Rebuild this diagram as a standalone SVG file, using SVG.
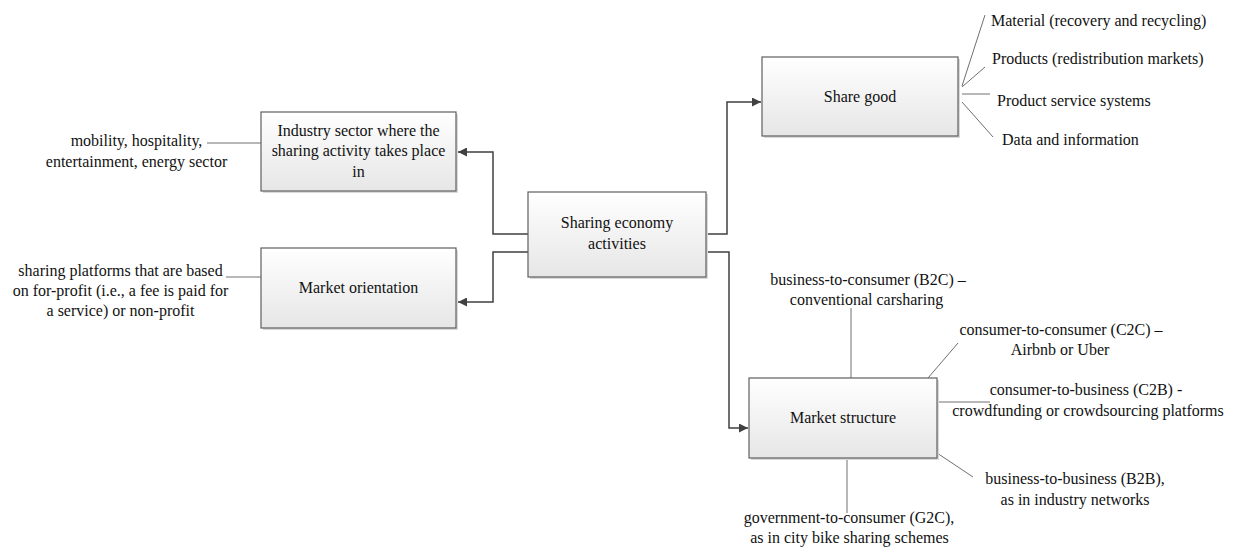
<svg xmlns="http://www.w3.org/2000/svg" width="1247" height="555" viewBox="0 0 1247 555">
<style>
.box{fill:url(#g);stroke:#5f5f5f;stroke-width:1.2}
.sh{fill:#d9d9d9}
.t{font-family:"Liberation Serif","Times New Roman",serif;font-size:16px;fill:#111}
.m{text-anchor:middle}
.c{fill:none;stroke:#404040;stroke-width:1.5}
.l{fill:none;stroke:#707070;stroke-width:1}
</style>
<defs>
<linearGradient id="g" x1="0" y1="0" x2="0" y2="1">
<stop offset="0" stop-color="#ffffff"/>
<stop offset="1" stop-color="#e6e6e6"/>
</linearGradient>
<marker id="a" viewBox="0 0 10 10" refX="10" refY="5" markerWidth="10" markerHeight="9" markerUnits="userSpaceOnUse" orient="auto">
<path d="M0,0 L10,5 L0,10 z" fill="#404040"/>
</marker>
</defs>
<rect width="1247" height="555" fill="#fff"/>

<g id="connectors">
<polyline class="c" points="528,234 493,234 493,152 458,152" marker-end="url(#a)"/>
<polyline class="c" points="528,252 493,252 493,302 458,302" marker-end="url(#a)"/>
<polyline class="c" points="706,234 727,234 727,102 761,102" marker-end="url(#a)"/>
<polyline class="c" points="706,252 729,252 729,428 748,428" marker-end="url(#a)"/>
<line class="l" x1="207" y1="143" x2="261" y2="143"/>
<line class="l" x1="226" y1="277" x2="261" y2="277"/>
<line class="l" x1="962" y1="86" x2="985" y2="15"/>
<line class="l" x1="962" y1="87" x2="985" y2="67"/>
<line class="l" x1="962" y1="94" x2="990" y2="94"/>
<line class="l" x1="962" y1="102" x2="993" y2="137"/>
<line class="l" x1="851" y1="308" x2="851" y2="378"/>
<line class="l" x1="928" y1="378" x2="958" y2="343"/>
<line class="l" x1="937" y1="402" x2="990" y2="402"/>
<line class="l" x1="937" y1="453" x2="973" y2="477"/>
<line class="l" x1="847" y1="458" x2="847" y2="513"/>
</g>

<g id="sharing">
<rect class="sh" x="530" y="194" width="178" height="85"/>
<rect class="box" x="528" y="192" width="178" height="85"/>
<text class="t m" x="617" y="228">Sharing economy</text>
<text class="t m" x="617" y="249">activities</text>
</g>

<g id="industry">
<rect class="sh" x="263" y="114" width="195" height="79"/>
<rect class="box" x="261" y="112" width="195" height="79"/>
<text class="t m" x="358.5" y="136">Industry sector where the</text>
<text class="t m" x="358.5" y="156">sharing activity takes place</text>
<text class="t m" x="358.5" y="177">in</text>
</g>
<g id="industry-note">
<text class="t m" x="136.5" y="146">mobility, hospitality,</text>
<text class="t m" x="136.5" y="167">entertainment, energy sector</text>
</g>

<g id="orientation">
<rect class="sh" x="263" y="250" width="195" height="80"/>
<rect class="box" x="261" y="248" width="195" height="80"/>
<text class="t m" x="358.5" y="293">Market orientation</text>
</g>
<g id="orientation-note">
<text class="t m" x="120.5" y="276">sharing platforms that are based</text>
<text class="t m" x="120.5" y="296">on for-profit (i.e., a fee is paid for</text>
<text class="t m" x="120.5" y="316">a service) or non-profit</text>
</g>

<g id="sharegood">
<rect class="sh" x="764" y="59" width="196" height="79"/>
<rect class="box" x="762" y="57" width="196" height="79"/>
<text class="t m" x="860" y="102">Share good</text>
</g>
<g id="sharegood-notes">
<text class="t" x="991" y="26">Material (recovery and recycling)</text>
<text class="t" x="992" y="64">Products (redistribution markets)</text>
<text class="t" x="997" y="106">Product service systems</text>
<text class="t" x="1002" y="145">Data and information</text>
</g>

<g id="structure">
<rect class="sh" x="751" y="380" width="188" height="80"/>
<rect class="box" x="749" y="378" width="188" height="80"/>
<text class="t m" x="843" y="423">Market structure</text>
</g>
<g id="structure-notes">
<text class="t m" x="868" y="285">business-to-consumer (B2C) –</text>
<text class="t m" x="866.5" y="305">conventional carsharing</text>
<text class="t m" x="1061" y="335">consumer-to-consumer (C2C) –</text>
<text class="t m" x="1060" y="355">Airbnb or Uber</text>
<text class="t m" x="1086" y="395">consumer-to-business (C2B) -</text>
<text class="t m" x="1088" y="416">crowdfunding or crowdsourcing platforms</text>
<text class="t m" x="1075" y="484">business-to-business (B2B),</text>
<text class="t m" x="1075" y="505">as in industry networks</text>
<text class="t m" x="849" y="523">government-to-consumer (G2C),</text>
<text class="t m" x="849.5" y="543">as in city bike sharing schemes</text>
</g>
</svg>
